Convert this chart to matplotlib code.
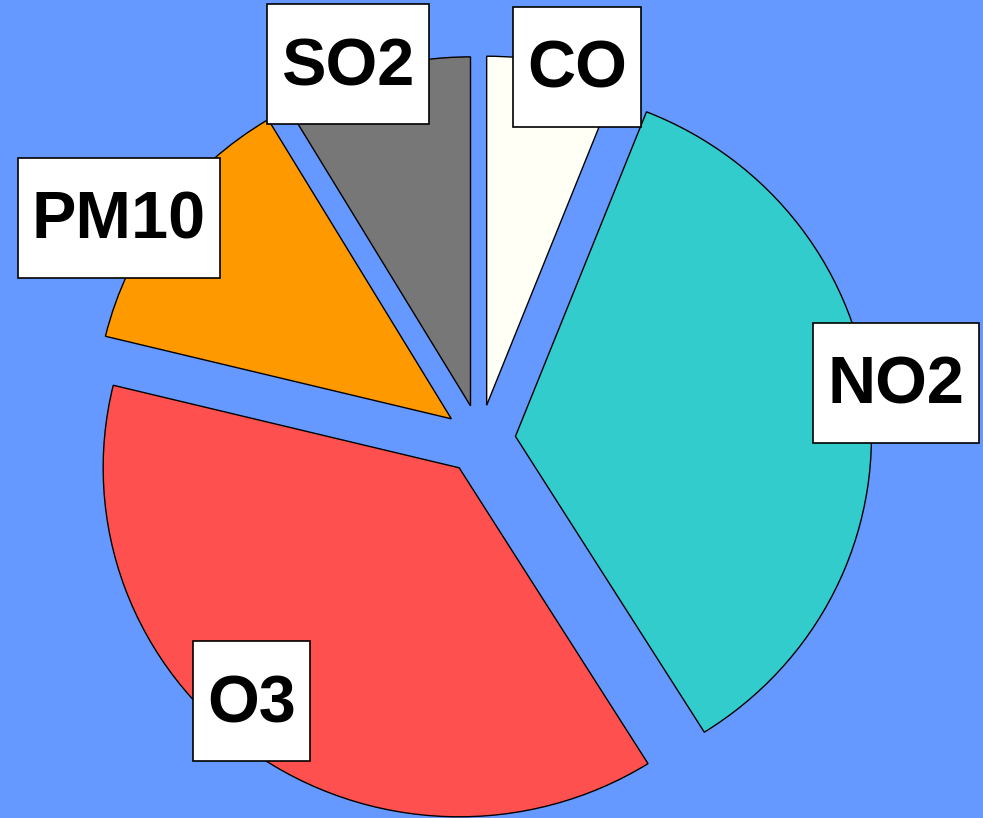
import matplotlib
matplotlib.use('Agg')
import matplotlib.pyplot as plt
from matplotlib.patches import Rectangle

# pollutant shares (percent), clockwise from 12 o'clock
labels = ['CO', 'NO2', 'O3', 'PM10', 'SO2']
shares = [6.0, 35.1, 37.7, 12.6, 8.6]
colors = ['#FFFFF5', '#33CCCC', '#FF5050', '#FF9900', '#777777']
# label box centres in axis units (1 unit = pie radius)
label_x = [0.2725, 1.1685, -0.6419, -1.0140, -0.3708]
label_y = [1.0673, 0.1619, -0.7507, 0.6347, 1.0745]

bg = '#6699FF'
W, H = 983, 818
sx, sy = 356.0, 349.0   # pixels per unit (pie is slightly wider than tall)
cx, cy = 480.0, 439.5   # pie centre in pixels from top-left

fig = plt.figure(figsize=(W / 100, H / 100), dpi=100, facecolor=bg)
ax = fig.add_axes([0, 0, 1, 1])
ax.set_facecolor(bg)

ax.pie(shares, colors=colors, startangle=90, counterclock=False,
       explode=[0.1] * len(shares), radius=1.0,
       wedgeprops=dict(edgecolor='black', linewidth=1.0))

ax.set_aspect('auto')
ax.set_xlim(-cx / sx, (W - cx) / sx)
ax.set_ylim(-(H - cy) / sy, cy / sy)
ax.axis('off')

fsize = 48
em_px = fsize / 72 * 100
renderer = fig.canvas.get_renderer()
for lab, x, y in zip(labels, label_x, label_y):
    t = ax.text(x, y - 0.31 * em_px / sy, lab, fontsize=fsize, fontweight='bold',
                family=['Liberation Sans', 'DejaVu Sans'],
                ha='center', va='baseline', zorder=5)
    w = (t.get_window_extent(renderer).width + 0.43 * em_px) / sx
    h = 1.8 * em_px / sy
    ax.add_patch(Rectangle((x - w / 2, y - h / 2), w, h, facecolor='white',
                           edgecolor='black', linewidth=1.2, zorder=4))

fig.savefig('out.png', dpi=100, facecolor=bg)
